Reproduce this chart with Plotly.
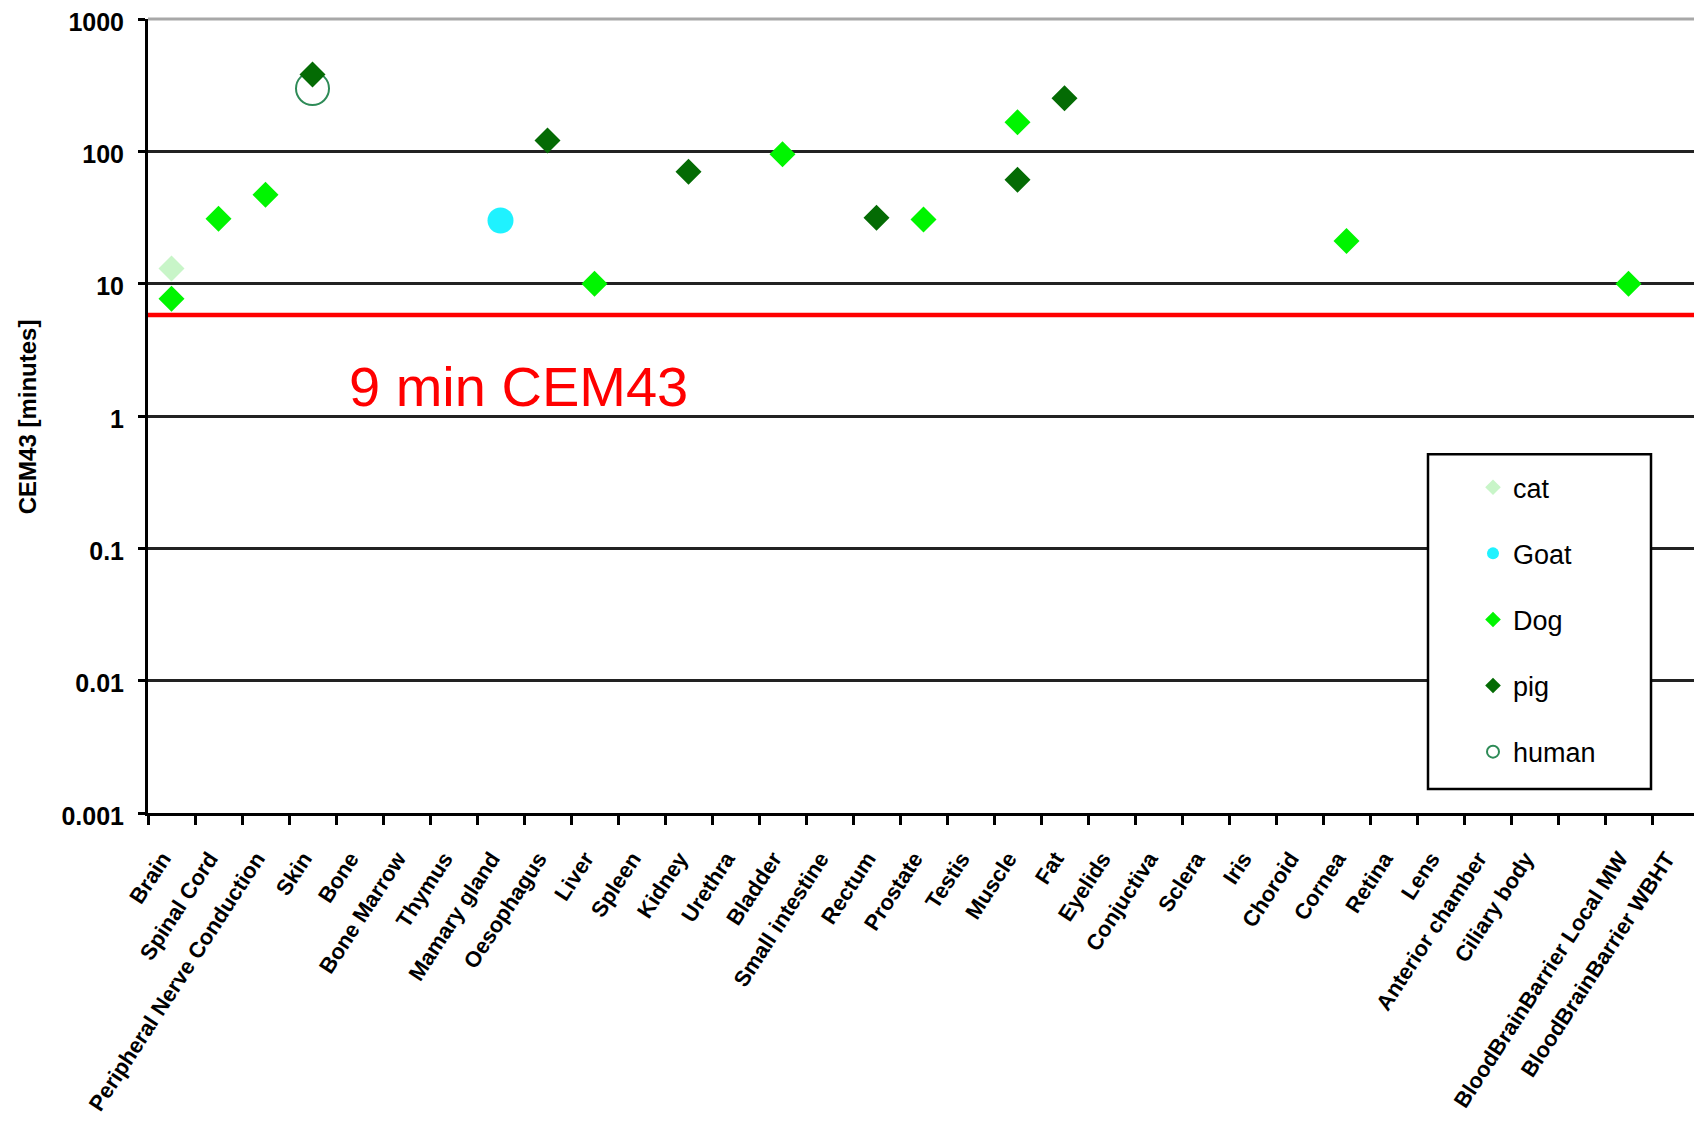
import plotly.graph_objects as go

# ---------------- data ----------------
tissues = ["Brain", "Spinal Cord", "Peripheral Nerve Conduction", "Skin", "Bone",
           "Bone Marrow", "Thymus", "Mamary gland", "Oesophagus", "Liver", "Spleen",
           "Kidney", "Urethra", "Bladder", "Small intestine", "Rectum", "Prostate",
           "Testis", "Muscle", "Fat", "Eyelids", "Conjuctiva", "Sclera", "Iris",
           "Choroid", "Cornea", "Retina", "Lens", "Anterior chamber", "Ciliary body",
           " ", "BloodBrainBarrier Local MW", "BloodBrainBarrier WBHT"]

cat_x = ["Brain"]
cat_y = [13]

goat_x = ["Mamary gland"]
goat_y = [30]

dog_x = ["Brain", "Spinal Cord", "Peripheral Nerve Conduction", "Liver", "Bladder",
         "Prostate", "Muscle", "Cornea", "BloodBrainBarrier Local MW"]
dog_y = [7.7, 31, 47, 10, 95, 30.5, 166, 21, 10]

pig_x = ["Skin", "Oesophagus", "Kidney", "Rectum", "Muscle", "Fat"]
pig_y = [381, 121, 70, 31.5, 61, 252]

human_x = ["Skin"]
human_y = [298]

threshold = 5.8
threshold_label = "9 min CEM43"

y_tickvals = [0.001, 0.01, 0.1, 1, 10, 100, 1000]
y_ticktext = ["0.001", "0.01", "0.1", "1", "10", "100", "1000"]

# ---------------- figure ----------------
FONT = "Liberation Sans, Arial, sans-serif"
OFF = 8  # default page body margin
W, H = 1702, 1125
# target plot area in page pixels: x 148..1699, y 18.5..813
ML = 148 - OFF
MT = 18.5 - OFF
MR = W - (1699 - OFF)
MB = H - (813 - OFF)
PW, PH = W - ML - MR, H - MT - MB


def px(x):
    return (x - OFF - ML) / PW


def py(y):
    return 1 - (y - OFF - MT) / PH


fig = go.Figure()

# red threshold line across full width (hidden linear x axis)
fig.add_trace(go.Scatter(x=[0, 1], y=[threshold, threshold], xaxis="x2", yaxis="y",
                         mode="lines", line=dict(color="#ff0000", width=4.5),
                         showlegend=False, hoverinfo="skip"))

fig.add_trace(go.Scatter(x=human_x, y=human_y, mode="markers", name="human",
                         legendrank=5, legendgroup="human",
                         marker=dict(symbol="circle-open", size=33,
                                     line=dict(color="#2e8b57", width=2), color="#2e8b57")))
fig.add_trace(go.Scatter(x=cat_x, y=cat_y, mode="markers", name="cat",
                         legendrank=1, legendgroup="cat",
                         marker=dict(symbol="diamond", size=20, color="#c8f5c8")))
fig.add_trace(go.Scatter(x=goat_x, y=goat_y, mode="markers", name="Goat",
                         legendrank=2, legendgroup="goat",
                         marker=dict(symbol="circle", size=26, color="#1ff2ff")))
fig.add_trace(go.Scatter(x=dog_x, y=dog_y, mode="markers", name="Dog",
                         legendrank=3, legendgroup="dog",
                         marker=dict(symbol="diamond", size=20, color="#00f500")))
fig.add_trace(go.Scatter(x=pig_x, y=pig_y, mode="markers", name="pig",
                         legendrank=4, legendgroup="pig",
                         marker=dict(symbol="diamond", size=20, color="#046b04")))

fig.update_layout(
    width=W, height=H,
    margin=dict(l=ML, r=MR, t=MT, b=MB, autoexpand=False),
    paper_bgcolor="white", plot_bgcolor="white",
    font=dict(family=FONT, color="black"),
    xaxis=dict(type="category", categoryorder="array", categoryarray=tissues,
               range=[-0.5, len(tissues) - 0.5], tickmode="array", tickvals=tissues,
               ticktext=tissues, automargin=False, ticklabeloverflow="allow",
               tickangle=-57, tickfont=dict(size=22, family=FONT, weight="bold"),
               ticklabelstandoff=21, ticklabelshift=-9,
               ticks="outside", tickson="boundaries", ticklen=9, tickwidth=2.5,
               tickcolor="black", showline=True, linecolor="black", linewidth=3,
               showgrid=False, zeroline=False),
    xaxis2=dict(overlaying="x", range=[0, 1], visible=False, fixedrange=True),
    yaxis=dict(type="log", range=[-3, 3], tickmode="array", tickvals=y_tickvals,
               ticktext=y_ticktext, automargin=False, ticklabeloverflow="allow",
               tickfont=dict(size=25, family=FONT, weight="bold"),
               ticklabelstandoff=9, ticklabelshift=3,
               ticks="outside", ticklen=7, tickwidth=2.5, tickcolor="black",
               showline=True, linecolor="black", linewidth=3,
               showgrid=True, gridcolor="#222222", gridwidth=2.5, zeroline=False),
    showlegend=True,
    legend=dict(x=px(1473), y=py(463), xanchor="left", yanchor="top",
                bgcolor="rgba(0,0,0,0)", borderwidth=0, tracegroupgap=28,
                itemsizing="constant", traceorder="grouped",
                font=dict(size=27, family=FONT, color="black")),
    shapes=[
        dict(type="line", xref="paper", yref="paper", x0=0, x1=1, y0=1, y1=1,
             line=dict(color="#a8a8a8", width=3), layer="above"),
        dict(type="line", xref="paper", yref="paper", x0=1, x1=1, y0=0, y1=1,
             line=dict(color="#b8b8b8", width=2), layer="above"),
        dict(type="rect", xref="paper", yref="paper", x0=px(1428), x1=px(1651),
             y0=py(789), y1=py(454), fillcolor="white",
             line=dict(color="black", width=2.5), layer="above"),
    ],
    annotations=[
        dict(text=threshold_label, xref="paper", yref="paper", x=px(347), y=py(386),
             xanchor="left", yanchor="middle", showarrow=False,
             font=dict(size=56, family=FONT, color="#ff0000")),
        dict(text="CEM43 [minutes]", xref="paper", yref="paper", x=px(27), y=py(417),
             xanchor="center", yanchor="middle", textangle=-90, showarrow=False,
             font=dict(size=24, family=FONT, weight="bold", color="black")),
    ],
)

fig.write_html("out.html")
